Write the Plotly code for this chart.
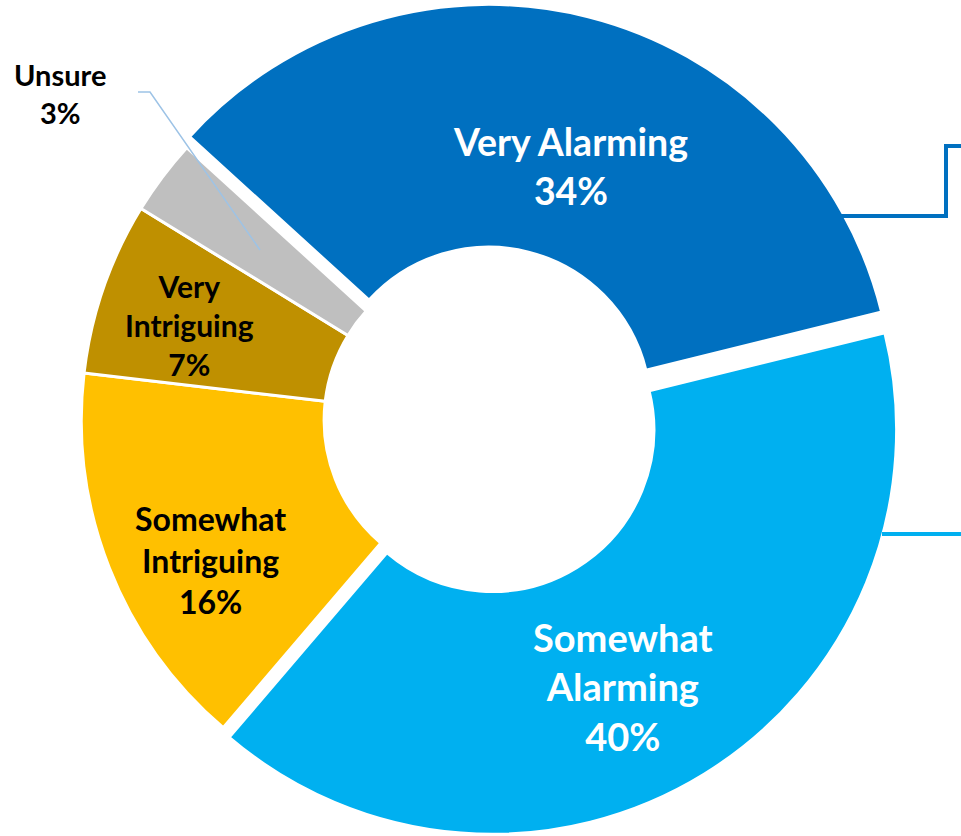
import plotly.graph_objects as go

# ---- data ----
labels = ["Very Alarming", "Somewhat Alarming", "Somewhat Intriguing", "Very Intriguing", "Unsure"]
label_lines = ["Very Alarming", "Somewhat<br>Alarming", "Somewhat<br>Intriguing", "Very<br>Intriguing", "Unsure"]
# shares (labels show them rounded)
values = [34.4, 40.1, 15.6, 6.9, 3.0]
colors = ["#0070C0", "#00B0F0", "#FFC000", "#BF9000", "#BFBFBF"]
pulls = [0.028, 0.028, 0, 0, 0]
text_colors = ["white", "white", "black", "black", "black"]
text_sizes = [37.5, 38, 32, 30, 29]
# label centres in pixels (layout)
label_pos = [(570, 166), (623, 686), (210, 560), (189, 325), (60, 94)]

W, H = 961, 836

fig = go.Figure(go.Pie(
    labels=labels,
    values=values,
    sort=False,
    direction="clockwise",
    rotation=-47.7,
    hole=0.40,
    pull=pulls,
    marker=dict(colors=colors, line=dict(color="white", width=3)),
    textinfo="none",
    hoverinfo="label+percent",
    showlegend=False,
    domain=dict(x=[486 / W - 0.45, 486 / W + 0.45], y=[0, 832 / H]),
))

annotations = []
for name, v, c, s, (px, py) in zip(label_lines, values, text_colors, text_sizes, label_pos):
    annotations.append(dict(
        x=px / W, y=1 - py / H, xref="paper", yref="paper",
        text=f"<b>{name}<br>{v:.0f}%</b>", showarrow=False,
        xanchor="center", yanchor="middle", align="center",
        font=dict(family="Lato, Carlito, sans-serif", size=s, color=c),
    ))

def P(px, py):
    return f"{px / W},{1 - py / H}"

shapes = [
    dict(type="path", xref="paper", yref="paper",
         path=f"M{P(260, 250)} L{P(150, 92)} L{P(138, 92)}",
         line=dict(color="#9DC3E6", width=1.5)),
    dict(type="path", xref="paper", yref="paper",
         path=f"M{P(840, 216)} L{P(946, 216)} L{P(946, 146)} L{P(965, 146)}",
         line=dict(color="#0070C0", width=4)),
    dict(type="path", xref="paper", yref="paper",
         path=f"M{P(882, 534)} L{P(965, 534)}",
         line=dict(color="#00B0F0", width=4)),
]

fig.update_layout(
    width=W, height=H,
    margin=dict(l=0, r=0, t=0, b=0),
    paper_bgcolor="white", plot_bgcolor="white",
    annotations=annotations, shapes=shapes,
)

fig.write_html(
    "out.html",
    config={"displayModeBar": False},
    post_script="document.body.style.margin='0';document.body.style.overflow='hidden';",
)
